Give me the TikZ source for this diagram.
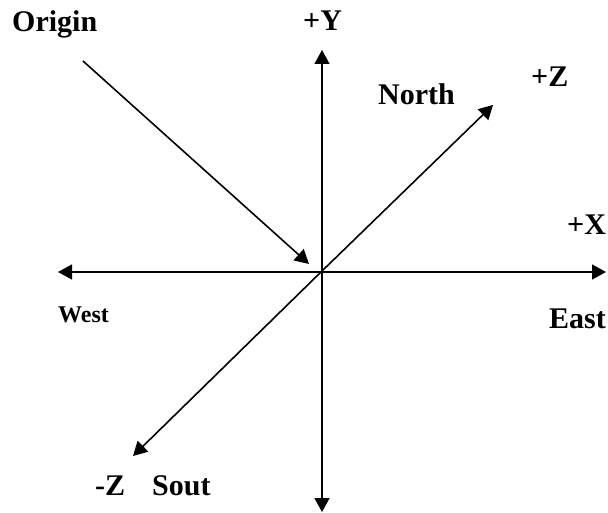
\documentclass[tikz,border=0pt]{standalone}
\usepackage{fontspec}
\setmainfont{Liberation Serif}
\usetikzlibrary{arrows.meta}
\tikzset{
  axis label/.style={inner sep=0pt,anchor=base west,font=\bfseries\fontsize{30}{31}\selectfont},
  small label/.style={inner sep=0pt,anchor=base west,font=\bfseries\fontsize{24}{25}\selectfont},
  axis arrow/.style={{Triangle[length=14pt,width=15pt]}-{Triangle[length=14pt,width=15pt]},line width=1.6pt},
  single arrow/.style={-{Triangle[length=14pt,width=15pt]},line width=1.6pt}
}
\begin{document}
\begin{tikzpicture}[x=1pt,y=-1pt]
        \useasboundingbox (0,0) rectangle (608,513);
        \coordinate (centre) at (322,271);
        \coordinate (ytop) at (322,50);
        \coordinate (ybot) at (322,512);
        \coordinate (xleft) at (58,272);
        \coordinate (xright) at (606,272);
        \coordinate (zplus) at (493,105);
        \coordinate (zminus) at (133,456);
        \coordinate (ostart) at (83,61);
        \coordinate (otip) at (309,264);
        \node[axis label] (origin) at (12,32) {Origin};
        \node[axis label] (plusy) at (303,31) {+Y};
        \node[axis label] (north) at (378,105) {North};
        \node[axis label] (plusz) at (531,87) {+Z};
        \node[axis label] (plusx) at (567,235) {+X};
        \node[small label] (west) at (58,323) {West};
        \node[axis label] (east) at (549,328) {East};
        \node[axis label] (minusz) at (95,495) {-Z};
        \node[axis label] (south) at (152,495) {Sout};
        \draw[axis arrow] (ybot) -- (ytop);
        \draw[axis arrow] (xleft) -- (xright);
        \draw[single arrow] (centre) -- (zplus);
        \draw[single arrow] (centre) -- (zminus);
        \draw[single arrow] (ostart) -- (otip);
      \end{tikzpicture}
\end{document}
